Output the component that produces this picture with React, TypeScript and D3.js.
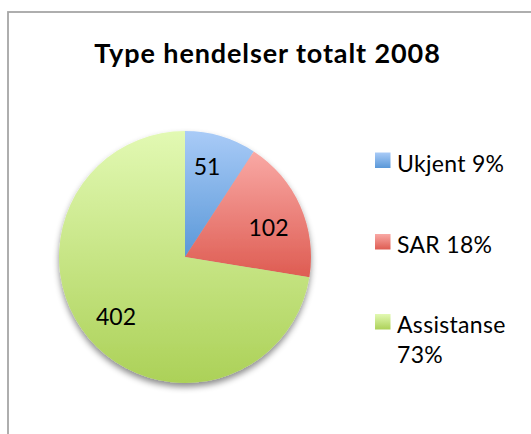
import React from "react";
import * as d3 from "d3";

const categories = ["Ukjent", "SAR", "Assistanse"];
const values = [51, 102, 402];
const legendLabels = [["Ukjent 9%"], ["SAR 18%"], ["Assistanse", "73%"]];
const title = "Type hendelser totalt 2008";

const gradStops = [
  ["#a9cbf7", "#5a98d8"],
  ["#f9a9a5", "#de5c52"],
  ["#e2f9b3", "#acd158"],
];

export default function App() {
  const W = 531, H = 434;
  const cx = 185, cy = 257, r = 126;
  const pie = d3.pie<number>().sort(null).value((d) => d)(values);
  const arc = d3.arc<d3.PieArcDatum<number>>().innerRadius(0).outerRadius(r);
  const labelPos = [
    [207, 175],
    [268.5, 235.5],
    [116, 325],
  ];
  const legendY = [152.5, 234, 314];
  const font = "Lato, Carlito, 'Open Sans', sans-serif";
  return (
    <svg width={W} height={H} style={{ position: "absolute", left: 0, top: 0 }}>
      <defs>
        {gradStops.map((g, i) => (
          <linearGradient key={i} id={`g${i}`} x1="0" y1="0" x2="0" y2="1">
            <stop offset="0" stopColor={g[0]} />
            <stop offset="1" stopColor={g[1]} />
          </linearGradient>
        ))}
        <filter id="sh" x="-20%" y="-20%" width="140%" height="140%">
          <feDropShadow dx="0" dy="4" stdDeviation="3" floodColor="#000" floodOpacity="0.45" />
        </filter>
      </defs>
      <rect x={0} y={0} width={W} height={H} fill="#fff" />
      <rect x={8} y={12} width={W + 20} height={H + 20} fill="#fff" stroke="#a6a6a6" strokeWidth={1.8} />
      <text x={267.5} y={63.3} textAnchor="middle" fontFamily={font} fontWeight="bold" fontSize={27} letterSpacing={0.9} fill="#000">
        {title}
      </text>
      <g transform={`translate(${cx},${cy})`} filter="url(#sh)">
        {pie.map((p, i) => (
          <path key={categories[i]} d={arc(p) || ""} fill={`url(#g${i})`} />
        ))}
      </g>
      {pie.map((p, i) => (
        <text key={"l" + i} x={labelPos[i][0]} y={labelPos[i][1]} textAnchor="middle" fontFamily={font} fontSize={23} fill="#000">
          {p.value}
        </text>
      ))}
      {categories.map((c, i) => (
        <g key={"lg" + c}>
          <rect x={375} y={legendY[i]} width={15.5} height={15.5} fill={`url(#g${i})`} />
          {legendLabels[i].map((t, j) => (
            <text key={j} x={397} y={legendY[i] + 19.2 + j * 30} fontFamily={font} fontSize={23} letterSpacing={0.3} fill="#000">
              {t}
            </text>
          ))}
        </g>
      ))}
    </svg>
  );
}
